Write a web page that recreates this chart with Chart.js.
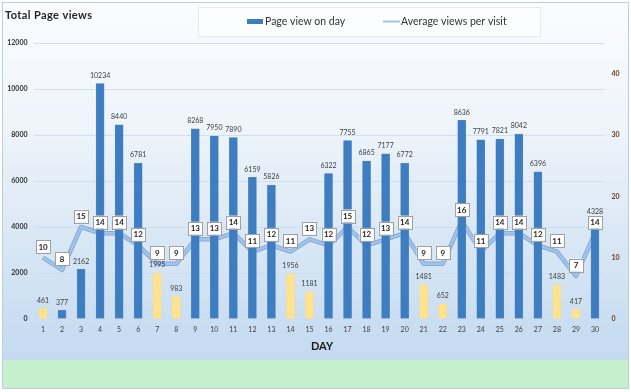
<!DOCTYPE html>
<html><head><meta charset="utf-8">
<script src="https://cdn.jsdelivr.net/npm/chart.js@4/dist/chart.umd.min.js"></script>
<style>html,body{margin:0;padding:0;background:#fff}#wrap{width:631px;height:392px;position:relative}canvas{display:block}</style>
</head><body><div id="wrap"><canvas id="c" width="631" height="392"></canvas></div>
<script>
const days = ["1","2","3","4","5","6","7","8","9","10","11","12","13","14","15","16","17","18","19","20","21","22","23","24","25","26","27","28","29","30"];
const pageViews = [461,377,2162,10234,8440,6781,1995,983,8268,7950,7890,6159,5826,1956,1181,6322,7755,6865,7177,6772,1481,652,8636,7791,7821,8042,6396,1483,417,4328];
const avgViews = [10,8,15,14,14,12,9,9,13,13,14,11,12,11,13,12,15,12,13,14,9,9,16,11,14,14,12,11,7,14];
const lowDays = ["1","7","8","14","15","21","22","28","29"];
const leftTicks = [0,2000,4000,6000,8000,10000,12000];
const rightTicks = [0,10,20,30,40];
const titleText = "Total Page views";
const axisTitle = "DAY";
const seriesNames = ["Page view on day","Average views per visit"];

const BLUE = '#3f7dc1', YELLOW = '#ffe38e', LINE = '#a3c4ea';
const FONT = "Lato, 'Open Sans', sans-serif";
Chart.defaults.font.family = FONT;

const bgPlugin = {
  id: 'bg',
  beforeDraw(chart) {
    const ctx = chart.ctx;
    ctx.save();
    const g = ctx.createLinearGradient(0, 0, 0, 360);
    g.addColorStop(0, '#fbfcfe');
    g.addColorStop(0.35, '#eef4fa');
    g.addColorStop(1, '#c3daf0');
    ctx.fillStyle = '#ffffff';
    ctx.fillRect(0, 0, 631, 392);
    ctx.fillStyle = g;
    ctx.fillRect(3, 3, 626, 357);
    ctx.fillStyle = '#c6efcd';
    ctx.fillRect(3, 360, 626, 28);
    ctx.strokeStyle = '#b9cde3';
    ctx.lineWidth = 1;
    ctx.strokeRect(2.5, 2.5, 626, 386);
    ctx.fillStyle = 'rgba(255,255,255,0.55)';
    ctx.fillRect(198, 7, 342, 29);
    ctx.strokeStyle = 'rgba(225,232,242,0.9)';
    ctx.strokeRect(198.5, 7.5, 342, 29);
    ctx.restore();
  },
  beforeDatasetsDraw(chart) {
    const meta = chart.getDatasetMeta(1);
    const ctx = chart.ctx;
    ctx.save();
    ctx.strokeStyle = '#84abd9';
    ctx.lineWidth = 4.5;
    ctx.lineJoin = 'round';
    ctx.beginPath();
    meta.data.forEach((p, i) => { if (i === 0) ctx.moveTo(p.x, p.y); else ctx.lineTo(p.x, p.y); });
    ctx.stroke();
    ctx.restore();
  },
  afterDraw(chart) {
    const ctx = chart.ctx;
    ctx.save();
    ctx.fillStyle = '#262626';
    ctx.font = "bold 11px " + FONT;
    ctx.textBaseline = 'middle';
    ctx.textAlign = 'left';
    if ('letterSpacing' in ctx) ctx.letterSpacing = '0.4px';
    ctx.fillText(titleText, 5, 15);
    if ('letterSpacing' in ctx) ctx.letterSpacing = '0px';
    ctx.fillStyle = BLUE;
    ctx.fillRect(247, 19, 16, 5);
    ctx.fillStyle = '#333';
    ctx.font = "10.5px " + FONT;
    ctx.fillText(seriesNames[0], 265, 21.5);
    ctx.strokeStyle = LINE;
    ctx.lineWidth = 2;
    ctx.beginPath(); ctx.moveTo(383, 21.5); ctx.lineTo(400, 21.5); ctx.stroke();
    ctx.fillText(seriesNames[1], 401, 21.5);
    ctx.font = "bold 11px " + FONT;
    ctx.fillStyle = '#1a1a1a';
    ctx.textAlign = 'center';
    ctx.fillText(axisTitle, 322, 346);
    ctx.restore();
  },
  afterDatasetsDraw(chart) {
    const ctx = chart.ctx;
    ctx.save();
    ctx.textAlign = 'center';
    ctx.textBaseline = 'middle';
    ctx.font = "7px " + FONT;
    ctx.fillStyle = '#404040';
    chart.getDatasetMeta(0).data.forEach((b, i) => {
      ctx.fillText(String(pageViews[i]), b.x, b.y - 8);
    });
    ctx.font = "bold 8px " + FONT;
    chart.getDatasetMeta(1).data.forEach((p, i) => {
      const cx = p.x, cy = p.y - 11;
      ctx.fillStyle = '#ffffff';
      ctx.fillRect(cx - 7, cy - 6.5, 14, 13);
      ctx.strokeStyle = '#a0a0a0';
      ctx.lineWidth = 1;
      ctx.strokeRect(Math.round(cx - 7) + 0.5, Math.round(cy - 6.5) + 0.5, 14, 13);
      ctx.fillStyle = '#262626';
      ctx.fillText(String(avgViews[i]), cx, cy + 0.5);
    });
    ctx.restore();
  }
};

new Chart(document.getElementById('c'), {
  data: {
    labels: days,
    datasets: [
      {
        type: 'bar', label: seriesNames[0], data: pageViews, yAxisID: 'y',
        backgroundColor: days.map(d => lowDays.includes(d) ? YELLOW : BLUE),
        borderColor: days.map(d => lowDays.includes(d) ? '#f3d87e' : '#5b8fcc'),
        borderWidth: 0.5, barThickness: 8, order: 1
      },
      {
        type: 'line', label: seriesNames[1], data: avgViews, yAxisID: 'y2',
        borderColor: LINE, borderWidth: 2.5, pointRadius: 0, tension: 0, fill: false, order: 2
      }
    ]
  },
  options: {
    responsive: false, devicePixelRatio: 1, animation: false,
    layout: { padding: { top: 43, left: 0, right: 0, bottom: 0 } },
    plugins: { legend: { display: false }, title: { display: false }, tooltip: { enabled: false } },
    scales: {
      x: {
        offset: true,
        grid: { display: false, drawTicks: false },
        border: { display: false },
        ticks: { font: { size: 7 }, color: '#404040', padding: 7, maxRotation: 0, autoSkip: false },
        afterFit(s) { s.height = 73; }
      },
      y: {
        position: 'left', min: 0, max: 12000,
        afterBuildTicks(s) { s.ticks = leftTicks.map(v => ({ value: v })); },
        ticks: { font: { size: 7, weight: 'bold' }, color: '#333', padding: 6, callback: v => String(v) },
        grid: { color: 'rgba(205,218,233,0.8)', drawTicks: false },
        border: { display: false },
        afterFit(s) { s.width = 33.5; }
      },
      y2: {
        position: 'right', min: 0, max: 45,
        afterBuildTicks(s) { s.ticks = rightTicks.map(v => ({ value: v })); },
        ticks: { font: { size: 7, weight: 'bold' }, color: '#6a3f22', padding: 7, callback: v => String(v) },
        grid: { display: false, drawTicks: false },
        border: { display: false },
        afterFit(s) { s.width = 26.5; }
      }
    }
  },
  plugins: [bgPlugin]
});
</script>
</body></html>
